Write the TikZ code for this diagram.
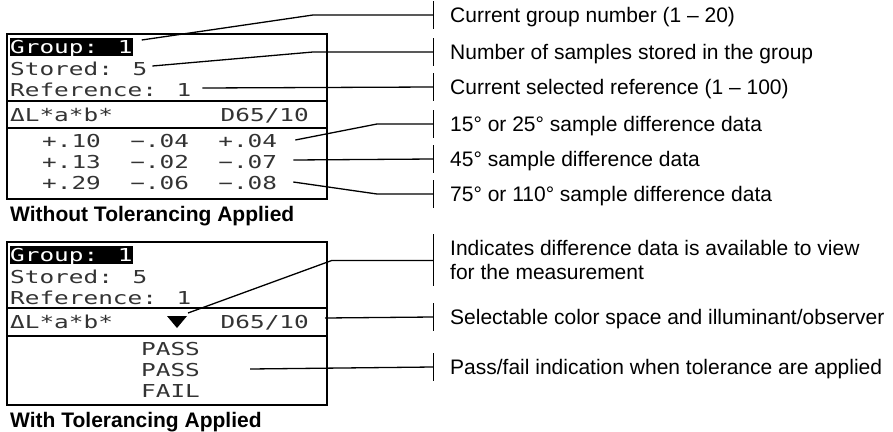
\documentclass[tikz,border=0pt]{standalone}
\usepackage{fontspec}
\setmainfont{Liberation Sans}
\newfontfamily\lcdfont[FakeStretch=1.37]{DejaVu Sans Mono}

\begin{document}
\begin{tikzpicture}[x=1pt,y=-1pt,
	panel/.style={line width=1.8pt},
	lcd/.style={anchor=west,inner sep=0pt,text=black!80,font=\lcdfont\fontsize{17.8}{20}\selectfont,text height=13pt,text depth=0pt},
	hilite/.style={lcd,fill=black,text=white,inner ysep=2.5pt},
	lbl/.style={anchor=west,inner sep=0pt,font=\fontsize{21}{24}\selectfont,text height=15pt,text depth=0pt},
	capt/.style={lbl,font=\fontsize{21}{24}\selectfont\bfseries},
	leader/.style={line width=1.3pt},
	tick/.style={line width=1pt}]
	\useasboundingbox (0,0) rectangle (893,431);
%
% display without tolerancing
	\draw[panel] (7,34) rectangle (327,199);
	\draw[panel] (7,101) -- (327,101);
	\draw[panel] (7,128) -- (327,128);
	\node[hilite] (grp1) at (10,47) {Group: 1};
	\node[lcd] (sto1) at (10,69) {Stored: 5};
	\node[lcd] (ref1) at (10,90) {Reference: 1};
	\node[lcd] (cs1) at (10,115) {ΔL*a*b*};
	\node[lcd,anchor=east] (ill1) at (309,115) {D65/10};
	\node[lcd] (row1) at (42,141) {+.10~~−.04~~+.04};
	\node[lcd] (row2) at (42,162) {+.13~~−.02~~−.07};
	\node[lcd] (row3) at (42,183) {+.29~~−.06~~−.08};
	\node[capt] (cap1) at (10,214) {Without Tolerancing Applied};
%
% display with tolerancing
	\draw[panel] (7,242) rectangle (327,405);
	\draw[panel] (7,308) -- (327,308);
	\draw[panel] (7,336) -- (327,336);
	\node[hilite] (grp2) at (10,255) {Group: 1};
	\node[lcd] (sto2) at (10,277) {Stored: 5};
	\node[lcd] (ref2) at (10,298) {Reference: 1};
	\node[lcd] (cs2) at (10,322) {ΔL*a*b*};
	\node[lcd,anchor=east] (ill2) at (309,322) {D65/10};
	\coordinate (mark) at (177,322);
	\fill ([shift={(-10,-6)}]mark) -- ([shift={(10,-6)}]mark) -- ([shift={(0,6)}]mark) -- cycle;
	\node[lcd] (pass1) at (141,349) {PASS};
	\node[lcd] (pass2) at (141,370) {PASS};
	\node[lcd] (fail1) at (141,391) {FAIL};
	\node[capt] (cap2) at (10,420) {With Tolerancing Applied};
%
% callout texts
	\node[lbl] (l1) at (450,15) {Current group number (1 – 20)};
	\node[lbl] (l2) at (450,52) {Number of samples stored in the group};
	\node[lbl] (l3) at (450,87) {Current selected reference (1 – 100)};
	\node[lbl] (l4) at (450,124) {15° or 25° sample difference data};
	\node[lbl] (l5) at (450,159) {45° sample difference data};
	\node[lbl] (l6) at (450,194) {75° or 110° sample difference data};
	\node[anchor=north west,inner sep=0pt,align=left,font=\fontsize{21}{24}\selectfont] (l7) at (450,240.5)
		{Indicates difference data is available to view\\for the measurement};
	\node[lbl] (l8) at (450,317) {Selectable color space and illuminant/observer};
	\node[lbl] (l9) at (450,367) {Pass/fail indication when tolerance are applied};
%
	\foreach \i in {1,...,9}
		\coordinate (t\i) at ([xshift=-17pt]l\i.west);
	\foreach \i in {1,2,3,4,5,6,8,9}
		\draw[tick] ([yshift=14pt]t\i) -- ([yshift=-14pt]t\i);
	\draw[tick] ([yshift=26pt]t7) -- ([yshift=-26pt]t7);
%
	\coordinate (b1) at ([xshift=-120pt]t1);
	\coordinate (b2) at ([xshift=-120pt]t2);
	\coordinate (b4) at ([xshift=-56pt]t4);
	\coordinate (b6) at ([xshift=-56pt]t6);
	\coordinate (b7) at ([xshift=-101pt]t7);
%
	\draw[leader] ([shift={(9,-7)}]grp1.east) -- (b1) -- (t1);
	\draw[leader] ([shift={(5,-3)}]sto1.east) -- (b2) -- (t2);
	\draw[leader] ([shift={(11,-2)}]ref1.east) -- (t3);
	\draw[leader] ([shift={(18,-1)}]row1.east) -- (b4) -- (t4);
	\draw[leader] ([shift={(16,-2)}]row2.east) -- (t5);
	\draw[leader] ([shift={(16,-1)}]row3.east) -- (b6) -- (t6);
	\draw[leader] ([shift={(11,-9)}]mark) -- (b7) -- (t7);
	\draw[leader] ([shift={(16,-4)}]ill2.east) -- (t8);
	\draw[leader] ([shift={(50,-1)}]pass2.east) -- (t9);
\end{tikzpicture}
\end{document}
